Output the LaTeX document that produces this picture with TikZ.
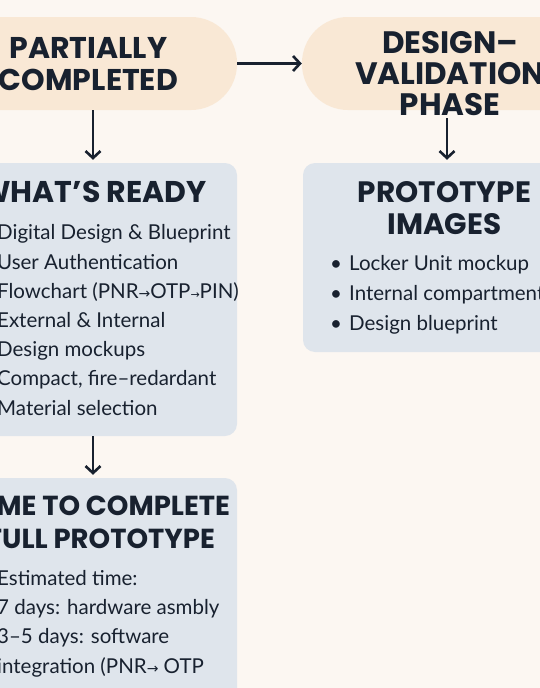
\documentclass[tikz,border=0pt]{standalone}
\usepackage{fontspec}
\setmainfont{Lato}
\newfontfamily\headfont{Poppins}
\newfontfamily\symfont{DejaVu Sans}
\usetikzlibrary{arrows.meta,calc}
\definecolor{paper}{HTML}{FCF7F2}
\definecolor{peach}{HTML}{F9E8D5}
\definecolor{cardfill}{HTML}{DFE5EC}
\definecolor{ink}{HTML}{18212F}
\newcommand\bul{\makebox[19pt][l]{•}}
\newcommand\sarr[1]{{\symfont\fontsize{#1}{#1}\selectfont →}}
\begin{document}
\begin{tikzpicture}[x=1pt,y=-1pt,
  pill/.style={rectangle, rounded corners=46pt, fill=peach, minimum height=93pt, inner sep=0pt},
  card/.style={rectangle, rounded corners=12pt, fill=cardfill, inner sep=0pt},
  headtext/.style 2 args={text=ink, align=center, inner sep=0pt, anchor=base,
    font=\headfont\bfseries\fontsize{#1}{#2}\selectfont},
  bodytext/.style={text=ink, align=left, inner sep=0pt, anchor=base west,
    font=\fontsize{20.5}{#1}\selectfont},
  flow/.style={draw=ink, line width=2.6pt, -{Straight Barb[length=7pt,width=15pt]}}
]
\useasboundingbox (0,0) rectangle (540,688);
\clip (0,0) rectangle (540,688);
\fill[paper] (0,0) rectangle (540,688);

% phase pills (multi-line labels are placed by their last baseline)
\node[pill, minimum width=297pt] (pillL) at (88.5,63.5) {};
\node[pill, minimum width=296pt] (pillR) at (450,63.5) {};
\node[headtext={30}{32}] (pillLtext) at (88.5,90) {PARTIALLY\\COMPLETED};
\node[headtext={31}{31}] (pillRtext) at (450,115) {DESIGN–\\VALIDATION\\PHASE};

% cards
\node[card, minimum width=288pt, minimum height=273pt] (ready) at (93,299.5) {};
\node[card, minimum width=283pt, minimum height=189pt] (proto) at (444.5,257.5) {};
\node[card, minimum width=270pt, minimum height=290pt] (time) at (102,623) {};

% card titles
\node[headtext={30}{32}] (readyTitle) at (93,202) {WHAT’S READY};
\node[headtext={29.5}{32}] (protoTitle) at (444.5,234) {PROTOTYPE\\IMAGES};
\node[headtext={27.5}{33}] (timeTitle) at (101,548) {TIME TO COMPLETE\\FULL PROTOTYPE};

% card bodies
\node[bodytext=29.2] (readyBody) at (-22,415) {%
  \bul Digital Design \& Blueprint\\
  \bul User Authentication\\
  \bul Flowchart (PNR\sarr{14}OTP\sarr{11}PIN)\\
  \bul External \& Internal\\
  \bul Design mockups\\
  \bul Compact, fire–redardant\\
  \bul Material selection};
\node[bodytext=30] (protoBody) at (330,330) {%
  \bul Locker Unit mockup\\
  \bul Internal compartment\\
  \bul Design blueprint};
\node[bodytext=29.3] (timeBody) at (-22,673) {%
  \bul Estimated time:\\
  \bul 7 days: hardware asmbly\\
  \bul 3–5 days: software\\
  \bul integration (PNR\sarr{14} OTP};

% connectors
\draw[flow] (pillL) -- (pillR);
\draw[flow, shorten >=3pt] (pillL.south -| ready.north) -- (ready.north);
\draw[flow, shorten >=3pt] ([xshift=2.5pt,yshift=-8pt]pillR.south -| proto.north) -- ([xshift=2.5pt]proto.north);
\draw[flow, shorten >=3pt] (ready.south) -- (ready.south |- time.north);
\end{tikzpicture}
\end{document}
